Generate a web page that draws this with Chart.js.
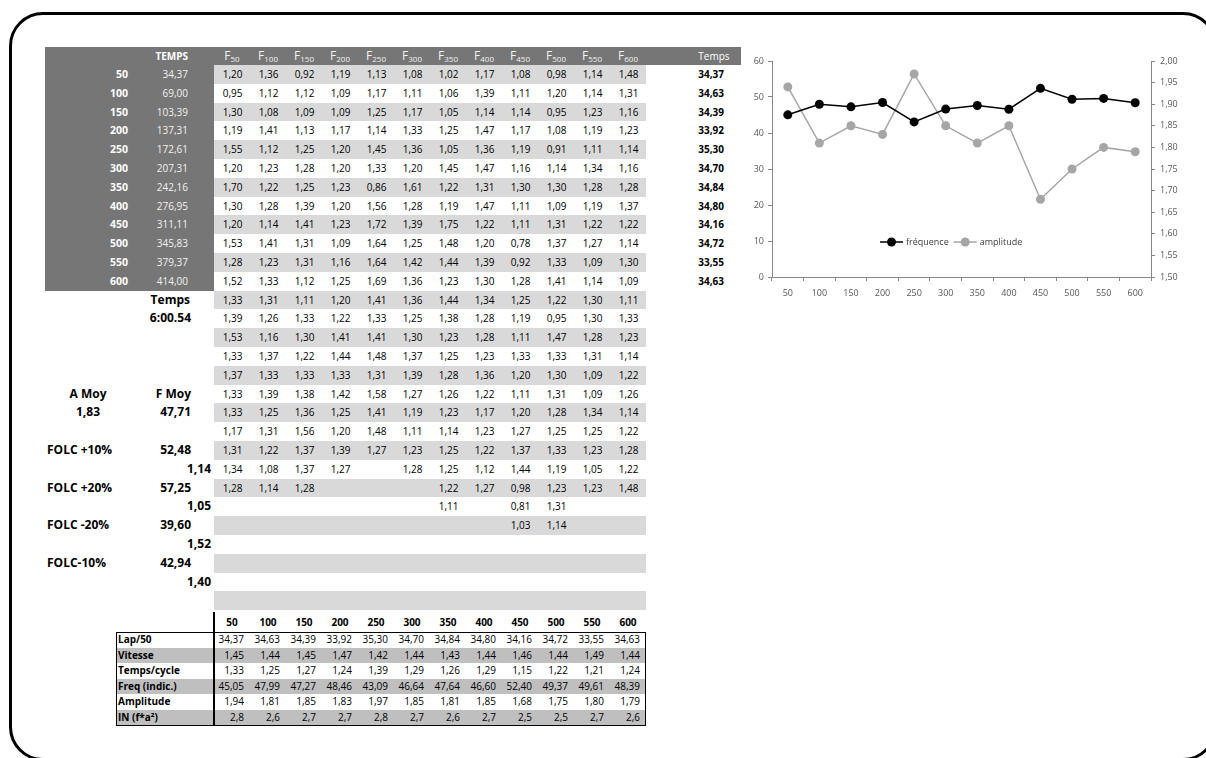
<!DOCTYPE html>
<html>
<head>
<meta charset="utf-8">
<script src="https://cdn.jsdelivr.net/npm/chart.js@4.4.0/dist/chart.umd.min.js"></script>
<style>
html,body{margin:0;padding:0;background:#fff;width:1206px;height:758px;overflow:hidden;font-family:'Open Sans',sans-serif;}
#frame{position:absolute;left:9px;top:12px;width:1208px;height:749px;border:3px solid #000;border-radius:34px;box-sizing:border-box;}
.c{position:absolute;white-space:nowrap;font-size:10px;color:#000;overflow:visible;}
.r{position:absolute;}
sub{font-size:8px;vertical-align:baseline;position:relative;top:2px;}
#chartBox{position:absolute;left:740px;top:50px;width:466px;height:256px;}
</style>
</head>
<body>
<div id="frame"></div>
<div id="sheet"></div>
<div id="chartBox"><canvas id="chart" width="466" height="256"></canvas></div>
<script>
// ---------- data ----------
const distances = ['50','100','150','200','250','300','350','400','450','500','550','600'];
const cumulativeTimes = [34.37, 69.00, 103.39, 137.31, 172.61, 207.31, 242.16, 276.95, 311.11, 345.83, 379.37, 414.00];
const lapTimes = [34.37, 34.63, 34.39, 33.92, 35.30, 34.70, 34.84, 34.80, 34.16, 34.72, 33.55, 34.63];
const strokeTimes = [
  [1.20,1.36,0.92,1.19,1.13,1.08,1.02,1.17,1.08,0.98,1.14,1.48],
  [0.95,1.12,1.12,1.09,1.17,1.11,1.06,1.39,1.11,1.20,1.14,1.31],
  [1.30,1.08,1.09,1.09,1.25,1.17,1.05,1.14,1.14,0.95,1.23,1.16],
  [1.19,1.41,1.13,1.17,1.14,1.33,1.25,1.47,1.17,1.08,1.19,1.23],
  [1.55,1.12,1.25,1.20,1.45,1.36,1.05,1.36,1.19,0.91,1.11,1.14],
  [1.20,1.23,1.28,1.20,1.33,1.20,1.45,1.47,1.16,1.14,1.34,1.16],
  [1.70,1.22,1.25,1.23,0.86,1.61,1.22,1.31,1.30,1.30,1.28,1.28],
  [1.30,1.28,1.39,1.20,1.56,1.28,1.19,1.47,1.11,1.09,1.19,1.37],
  [1.20,1.14,1.41,1.23,1.72,1.39,1.75,1.22,1.11,1.31,1.22,1.22],
  [1.53,1.41,1.31,1.09,1.64,1.25,1.48,1.20,0.78,1.37,1.27,1.14],
  [1.28,1.23,1.31,1.16,1.64,1.42,1.44,1.39,0.92,1.33,1.09,1.30],
  [1.52,1.33,1.12,1.25,1.69,1.36,1.23,1.30,1.28,1.41,1.14,1.09],
  [1.33,1.31,1.11,1.20,1.41,1.36,1.44,1.34,1.25,1.22,1.30,1.11],
  [1.39,1.26,1.33,1.22,1.33,1.25,1.38,1.28,1.19,0.95,1.30,1.33],
  [1.53,1.16,1.30,1.41,1.41,1.30,1.23,1.28,1.11,1.47,1.28,1.23],
  [1.33,1.37,1.22,1.44,1.48,1.37,1.25,1.23,1.33,1.33,1.31,1.14],
  [1.37,1.33,1.33,1.33,1.31,1.39,1.28,1.36,1.20,1.30,1.09,1.22],
  [1.33,1.39,1.38,1.42,1.58,1.27,1.26,1.22,1.11,1.31,1.09,1.26],
  [1.33,1.25,1.36,1.25,1.41,1.19,1.23,1.17,1.20,1.28,1.34,1.14],
  [1.17,1.31,1.56,1.20,1.48,1.11,1.14,1.23,1.27,1.25,1.25,1.22],
  [1.31,1.22,1.37,1.39,1.27,1.23,1.25,1.22,1.37,1.33,1.23,1.28],
  [1.34,1.08,1.37,1.27,null,1.28,1.25,1.12,1.44,1.19,1.05,1.22],
  [1.28,1.14,1.28,null,null,null,1.22,1.27,0.98,1.23,1.23,1.48],
  [null,null,null,null,null,null,1.11,null,0.81,1.31,null,null],
  [null,null,null,null,null,null,null,null,1.03,1.14,null,null]
];
const totalRows = 29;
const totalTime = '6:00.54';
const meanAmplitude = 1.83;
const meanFrequency = 47.71;
const folcLabels = ['FOLC +10%','FOLC +20%','FOLC -20%','FOLC-10%'];
const folcFrequency = [52.48, 57.25, 39.60, 42.94];
const folcCycle = [1.14, 1.05, 1.52, 1.40];

const summaryLabels = ['Lap/50','Vitesse','Temps/cycle','Freq (indic.)','Amplitude','IN (f*a²)'];
const speeds = [1.45,1.44,1.45,1.47,1.42,1.44,1.43,1.44,1.46,1.44,1.49,1.44];
const cycleTimes = [1.33,1.25,1.27,1.24,1.39,1.29,1.26,1.29,1.15,1.22,1.21,1.24];
const frequency = [45.05,47.99,47.27,48.46,43.09,46.64,47.64,46.60,52.40,49.37,49.61,48.39];
const amplitude = [1.94,1.81,1.85,1.83,1.97,1.85,1.81,1.85,1.68,1.75,1.80,1.79];
const indexIN = [2.8,2.6,2.7,2.7,2.8,2.7,2.6,2.7,2.5,2.5,2.7,2.6];

const freqTicksLeft = {min:0, max:60, step:10};
const ampTicksRight = {min:1.5, max:2.0, step:0.05};

// ---------- spreadsheet ----------
const sheet = document.getElementById('sheet');
const fmt = (v, d=2) => v.toFixed(d).replace('.', ',');
function rect(x,y,w,h,color){const d=document.createElement('div');d.className='r';Object.assign(d.style,{left:x+'px',top:y+'px',width:w+'px',height:h+'px',background:color});sheet.appendChild(d);return d;}
function put(html,x,y,w,h,o={}){const d=document.createElement('div');d.className='c';
  Object.assign(d.style,{left:x+'px',top:y+'px',width:w+'px',height:h+'px',lineHeight:h+'px',textAlign:o.align||'right',
  fontWeight:o.bold?'700':'400',fontSize:(o.size||10)+'px',color:o.color||'#000'});
  d.innerHTML=html;sheet.appendChild(d);return d;}

const DARK='#767676', LIGHT='#d9d9d9';
const headTop=47, headH=18, rowH=18.8, gridTop=65, colX=214, colW=36;
const rowTop = i => gridTop + i*rowH;

rect(45, headTop, 696, headH, DARK);
rect(45, gridTop, colX-45, distances.length*rowH, DARK);
for(let i=0;i<totalRows;i++){ if(i%2===0) rect(colX, rowTop(i), colW*12, rowH, LIGHT); }

put('TEMPS', 130, headTop, 58, headH, {bold:true,size:10,color:'#fff'});
distances.forEach((d,k)=>put('F<sub>'+d+'</sub>', colX+colW*k, headTop, colW, headH, {align:'center',size:12,color:'#f2f2f2'}));
put('Temps', 688, headTop, 52, headH, {align:'center',size:10,color:'#fff'});

distances.forEach((d,i)=>{
  put(d, 45, rowTop(i), 83, rowH, {bold:true,size:10.5,color:'#fff'});
  put(fmt(cumulativeTimes[i]), 133, rowTop(i), 55, rowH, {color:'#f2f2f2'});
  put(fmt(lapTimes[i]), 680, rowTop(i), 44, rowH, {bold:true});
});
strokeTimes.forEach((row,i)=>row.forEach((v,k)=>{ if(v!==null) put(fmt(v), colX+colW*k, rowTop(i), 28.5, rowH); }));

// summary block on the left
const B={bold:true,size:12};
put('Temps', 120, rowTop(12), 70, rowH, B);
put(totalTime, 120, rowTop(13), 71, rowH, B);
put('A Moy', 50, rowTop(17), 76, rowH, {...B,align:'center'});
put('F Moy', 120, rowTop(17), 71, rowH, B);
put(fmt(meanAmplitude), 50, rowTop(18), 76, rowH, {...B,align:'center'});
put(fmt(meanFrequency), 120, rowTop(18), 71, rowH, B);
folcLabels.forEach((lab,j)=>{
  const r = 20 + j*2;
  put(lab, 47, rowTop(r), 80, rowH, {...B,align:'left'});
  put(fmt(folcFrequency[j]), 120, rowTop(r), 71, rowH, B);
  put(fmt(folcCycle[j]), 150, rowTop(r+1), 61, rowH, B);
});

// bottom summary table
const bHeadTop=612, bTop=632, bRowH=15.6;
distances.forEach((d,k)=>put(d, colX+colW*k, bHeadTop, colW, 20, {align:'center',bold:true}));
const bottomRows=[lapTimes, speeds, cycleTimes, frequency, amplitude, indexIN];
bottomRows.forEach((vals,j)=>{
  const y=bTop+j*bRowH;
  if(j%2===1) rect(116, y, 530, bRowH, '#bfbfbf');
  put(summaryLabels[j], 118, y, 95, bRowH, {align:'left',bold:true});
  vals.forEach((v,k)=>put(fmt(v, j===5?1:2), colX+colW*k, y, 30, bRowH));
});
const box=rect(116, bTop, 530, bRowH*6, 'transparent');
box.style.boxSizing='border-box'; box.style.border='1.5px solid #000';
rect(213, bHeadTop, 2, bTop-bHeadTop+bRowH*6, '#000');

// ---------- chart ----------
const legendInside = {
  id:'legendInside',
  afterDraw(chart){
    const ctx=chart.ctx, a=chart.chartArea;
    ctx.save();
    ctx.font='9px "Open Sans"'; ctx.textBaseline='middle';
    let x=a.left+108; const y=a.top+181;
    chart.data.datasets.forEach(ds=>{
      ctx.strokeStyle=ds.borderColor; ctx.lineWidth=1.5;
      ctx.beginPath(); ctx.moveTo(x,y); ctx.lineTo(x+23,y); ctx.stroke();
      ctx.fillStyle=ds.pointBackgroundColor; ctx.beginPath(); ctx.arc(x+11.5,y,4.5,0,Math.PI*2); ctx.fill();
      ctx.fillStyle='#404040'; ctx.fillText(ds.label, x+26, y);
      x += 26 + ctx.measureText(ds.label).width + 5;
    });
    ctx.restore();
  }
};
Chart.defaults.font.family='"Open Sans", sans-serif';
Chart.defaults.font.size=9;
Chart.defaults.color='#595959';
const axisColor='#868686';
new Chart(document.getElementById('chart'),{
  type:'line',
  data:{labels:distances,datasets:[
    {label:'fréquence',data:frequency,yAxisID:'yF',borderColor:'#000',backgroundColor:'#000',pointBackgroundColor:'#000',pointBorderWidth:0,pointRadius:4.5,borderWidth:1.5,tension:0},
    {label:'amplitude',data:amplitude,yAxisID:'yA',borderColor:'#a6a6a6',backgroundColor:'#a6a6a6',pointBackgroundColor:'#a6a6a6',pointBorderWidth:0,pointRadius:4.5,borderWidth:1.5,tension:0}
  ]},
  options:{
    responsive:false,animation:false,
    layout:{padding:{top:11,left:0,right:0,bottom:0}},
    plugins:{legend:{display:false},tooltip:{enabled:false}},
    scales:{
      x:{offset:true,grid:{offset:true,drawOnChartArea:false,drawTicks:true,tickLength:4,color:axisColor},border:{color:axisColor},
         ticks:{padding:7,maxRotation:0,autoSkip:false},afterFit(s){s.height=29;}},
      yF:{position:'left',min:freqTicksLeft.min,max:freqTicksLeft.max,ticks:{stepSize:freqTicksLeft.step,padding:4},
          grid:{drawOnChartArea:false,tickLength:4,color:axisColor},border:{color:axisColor},afterFit(s){s.width=32;}},
      yA:{position:'right',min:ampTicksRight.min,max:ampTicksRight.max,
          ticks:{stepSize:ampTicksRight.step,padding:5,callback:v=>v.toFixed(2).replace('.',',')},
          grid:{drawOnChartArea:false,tickLength:4,color:axisColor},border:{color:axisColor},afterFit(s){s.width=55;}}
    }
  },
  plugins:[legendInside]
});
</script>
</body>
</html>
